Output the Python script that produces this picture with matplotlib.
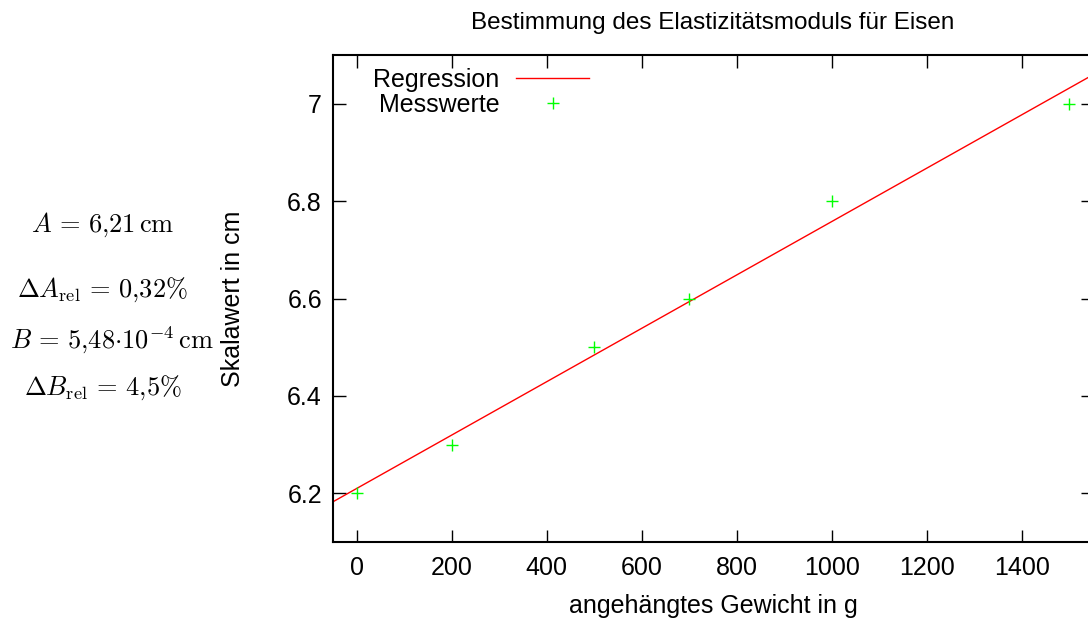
import numpy as np
import matplotlib
matplotlib.use('Agg')
import matplotlib.pyplot as plt

# measured scale readings for each attached weight
gewicht = [0, 200, 500, 700, 1000, 1500]
skalawert = [6.2, 6.3, 6.5, 6.6, 6.8, 7.0]

# fit parameters (offset in cm, slope in cm per g)
A = 6.21
B = 5.48e-4

xticks = [0, 200, 400, 600, 800, 1000, 1200, 1400]
yticks = [6.2, 6.4, 6.6, 6.8, 7.0]
ytick_labels = ['6.2', '6.4', '6.6', '6.8', '7']

plt.rcParams['font.family'] = ['Liberation Sans', 'DejaVu Sans']
plt.rcParams['mathtext.fontset'] = 'cm'

fig = plt.figure(figsize=(10.88, 6.2), dpi=100)
ax = fig.add_axes([333 / 1088, 1 - 542 / 620, 760 / 1088, 487 / 620])

xlim = (-50, 1550)
xs = np.array(xlim)
ax.plot(xs, A + B * xs, color='#ff0000', lw=1.0, label='Regression')
ax.plot(gewicht, skalawert, ls='none', marker='+', ms=8, mew=1.0,
        color='#00ff00', label='Messwerte')

ax.set_xlim(*xlim)
ax.set_ylim(6.1, 7.1)
ax.set_xticks(xticks)
ax.set_yticks(yticks)
ax.set_yticklabels(ytick_labels)
ax.tick_params(direction='in', length=9, width=1.0, top=True, right=True,
               labelsize=18, colors='black')
ax.tick_params(axis='x', pad=10)
ax.tick_params(axis='y', pad=8)
for sp in ax.spines.values():
    sp.set_linewidth(1.5)

ax.set_title('Bestimmung des Elastizitätsmoduls für Eisen', fontsize=17.5, pad=19)
ax.set_xlabel('angehängtes Gewicht in g', fontsize=18, labelpad=10)
ax.set_ylabel('Skalawert in cm', fontsize=18, labelpad=30)

ax.legend(loc='upper left', frameon=False, markerfirst=False, fontsize=18,
          handlelength=2.9, handletextpad=0.68, borderpad=0,
          borderaxespad=0, labelspacing=0.04,
          bbox_to_anchor=(40 / 760, 1 - 13 / 487))

# fit results shown beside the plot
params = [r'$A\,=\,6{,}21\,\mathrm{cm}$',
          r'$\Delta A_{\mathrm{rel}}\,=\,0{,}32\%$',
          r'$B\,=\,5{,}48{\cdot}10^{-4}\,\mathrm{cm}$',
          r'$\Delta B_{\mathrm{rel}}\,=\,4{,}5\%$']
xpos = [103, 102, 112, 103]
ypos = [225, 290, 340, 388]
for txt, xp, yp in zip(params, xpos, ypos):
    fig.text(xp / 1088, 1 - yp / 620, txt, fontsize=19,
             ha='center', va='center')

fig.savefig('out.png', dpi=100)
